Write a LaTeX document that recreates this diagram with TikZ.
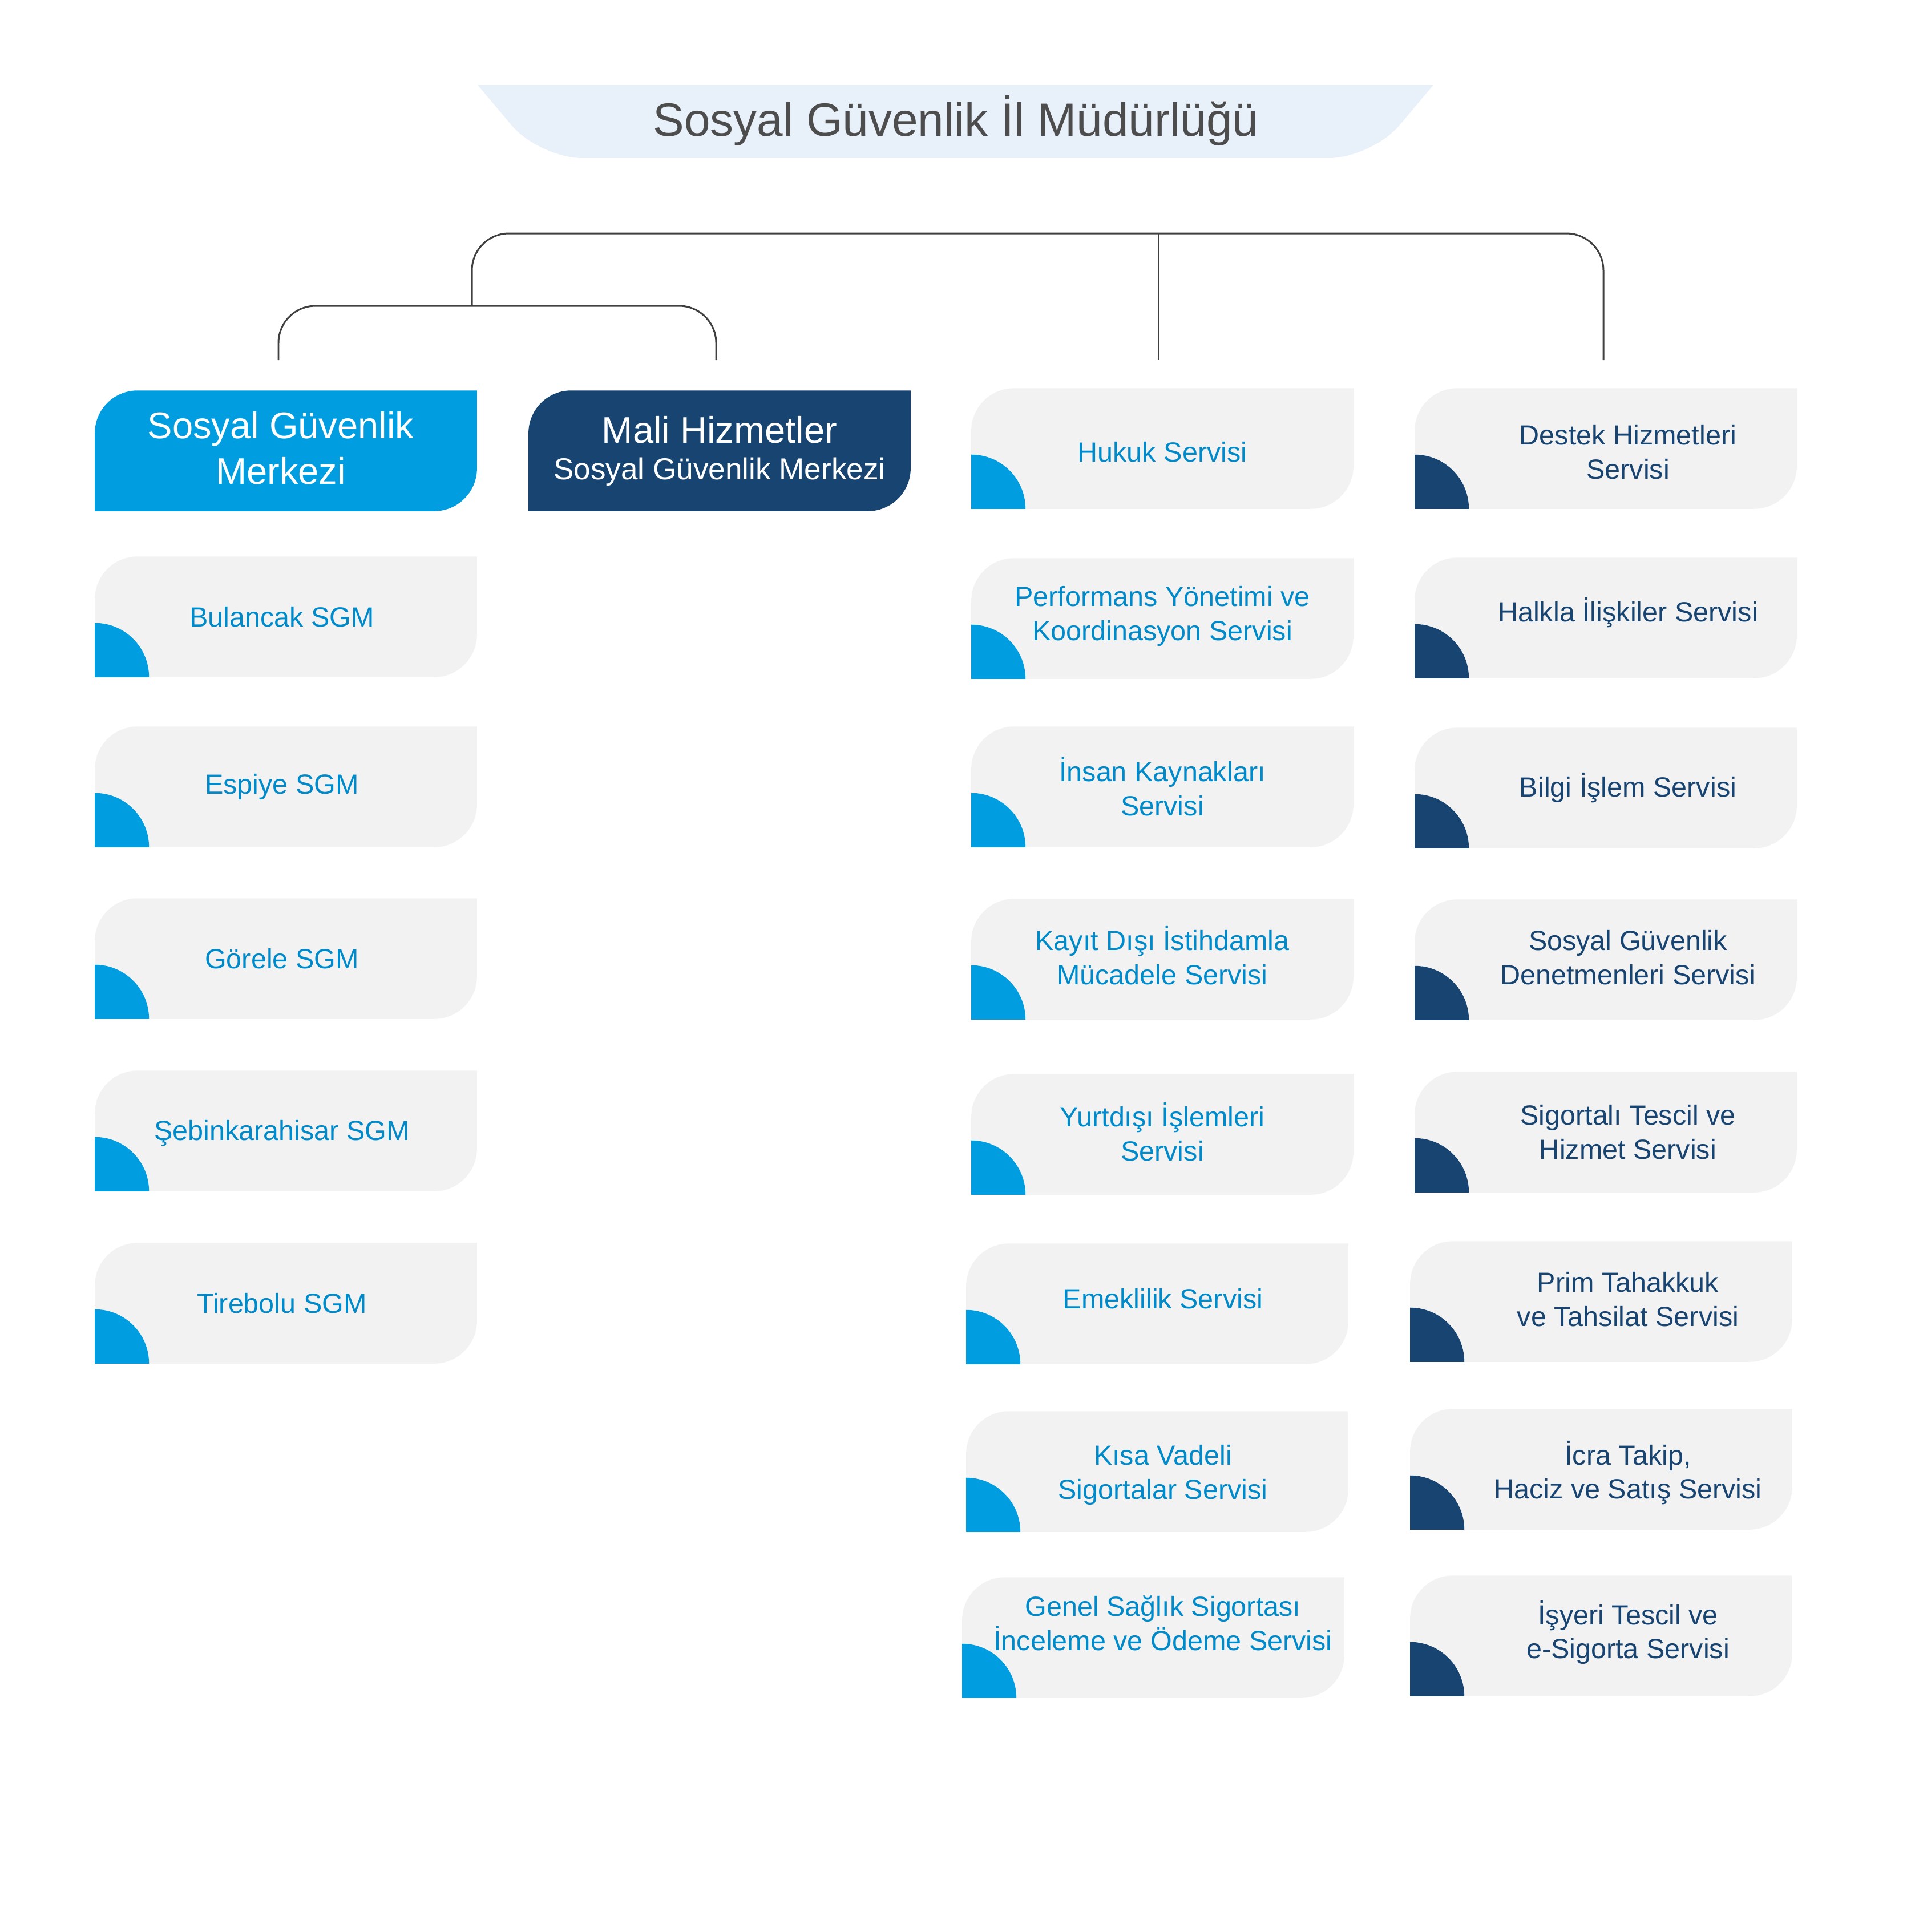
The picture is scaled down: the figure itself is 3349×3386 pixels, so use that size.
\documentclass[tikz,border=0pt]{standalone}
\usepackage{fontspec}
\setmainfont{Liberation Sans}
\usetikzlibrary{positioning,backgrounds}

\definecolor{sgblue}{RGB}{0,158,224}
\definecolor{sgdark}{RGB}{24,68,113}
\definecolor{sgtext}{RGB}{0,138,202}
\definecolor{sggray}{RGB}{242,242,242}
\definecolor{sgtitle}{RGB}{232,240,250}
\definecolor{sgline}{RGB}{64,64,64}
\definecolor{sgtitletext}{RGB}{77,77,77}

% card outline: rounded top left and bottom right
\newcommand{\cardfill}[2]{\fill[#2] (#1.south west) -- ([yshift=-0.75cm]#1.north west) arc[start angle=180, end angle=90, radius=0.75cm] -- (#1.north east) -- ([yshift=0.75cm]#1.south east) arc[start angle=0, end angle=-90, radius=0.75cm] -- cycle;}
\newcommand{\cardmark}[2]{\fill[#2] (#1.south west) -- ++(0.95cm,0) arc[start angle=0, end angle=90, radius=0.95cm] -- cycle;}

\begin{document}
\begin{tikzpicture}[x=0.01cm, y=-0.01cm,
    card/.style={minimum width=6.68cm, minimum height=2.1cm, inner sep=0pt},
    cardtext/.style={align=center, inner sep=0pt, font=\fontsize{13.8}{17}\selectfont},
    atext/.style={cardtext, text=sgtext, xshift=-0.07cm},
    ctext/.style={cardtext, text=sgtext},
    dtext/.style={cardtext, text=sgdark, xshift=0.39cm},
    headtext/.style={align=center, inner sep=0pt, text=white, font=\fontsize{18.5}{22.8}\selectfont},
    link/.style={draw=sgline, line width=0.85pt, rounded corners=0.65cm}]
    \useasboundingbox (0,0) rectangle (3349,3386);

    % Title
    \node[font=\fontsize{23.3}{28}\selectfont, text=sgtitletext] (title) at (1675,211) {Sosyal Güvenlik İl Müdürlüğü};

    % Heads
    \node[card, label={[headtext, xshift=-0.09cm, yshift=0.05cm]center:{Sosyal Güvenlik\\Merkezi}}] (sgm) at (501,790) {};
    \node[card, label={[headtext]center:{Mali Hizmetler\\[-4.6pt]{\fontsize{15.1}{18}\selectfont Sosyal Güvenlik Merkezi}}}] (mali) at (1261,790) {};

    % SGM column
    \node[card, label={[atext]center:Bulancak SGM}] (bul) at (501,1081) {};
    \node[card, label={[atext]center:Espiye SGM}] (esp) at (501,1379) {};
    \node[card, label={[atext]center:Görele SGM}] (gor) at (501,1680) {};
    \node[card, label={[atext, yshift=-0.04cm]center:Şebinkarahisar SGM}] (seb) at (501,1982) {};
    \node[card, label={[atext]center:Tirebolu SGM}] (tir) at (501,2284) {};

    % Services, left
    \node[card, label={[ctext, yshift=-0.06cm]center:Hukuk Servisi}] (hukuk) at (2037,786) {};
    \node[card, label={[ctext, yshift=0.04cm]center:{Performans Yönetimi ve\\Koordinasyon Servisi}}] (perf) at (2037,1084) {};
    \node[card, label={[ctext]center:{İnsan Kaynakları\\Servisi}}] (insan) at (2037,1379) {};
    \node[card, label={[ctext, yshift=0.06cm]center:{Kayıt Dışı İstihdamla\\Mücadele Servisi}}] (kayit) at (2037,1681) {};
    \node[card, label={[ctext, yshift=0.04cm]center:{Yurtdışı İşlemleri\\Servisi}}] (yurt) at (2037,1988) {};
    \node[card, label={[ctext, xshift=0.1cm, yshift=0.09cm]center:Emeklilik Servisi}] (emek) at (2028,2285) {};
    \node[card, label={[ctext, xshift=0.1cm, yshift=-0.06cm]center:{Kısa Vadeli\\Sigortalar Servisi}}] (kisa) at (2028,2579) {};
    \node[card, label={[ctext, xshift=0.17cm, yshift=0.25cm]center:{Genel Sağlık Sigortası\\İnceleme ve Ödeme Servisi}}] (genel) at (2021,2870) {};

    % Services, right
    \node[card, label={[dtext, yshift=-0.06cm]center:{Destek Hizmetleri\\Servisi}}] (destek) at (2814,786) {};
    \node[card, label={[dtext, yshift=0.09cm]center:Halkla İlişkiler Servisi}] (halkla) at (2814,1083) {};
    \node[card, label={[dtext]center:Bilgi İşlem Servisi}] (bilgi) at (2814,1381) {};
    \node[card, label={[dtext, yshift=0.04cm]center:{Sosyal Güvenlik\\Denetmenleri Servisi}}] (sosyal) at (2814,1682) {};
    \node[card, label={[dtext]center:{Sigortalı Tescil ve\\Hizmet Servisi}}] (sigorta) at (2814,1984) {};
    \node[card, label={[dtext, xshift=0.08cm, yshift=0.04cm]center:{Prim Tahakkuk\\ve Tahsilat Servisi}}] (prim) at (2806,2281) {};
    \node[card, label={[dtext, xshift=0.08cm, yshift=-0.06cm]center:{İcra Takip,\\Haciz ve Satış Servisi}}] (icra) at (2806,2575) {};
    \node[card, label={[dtext, xshift=0.08cm, yshift=0.06cm]center:{İşyeri Tescil ve\\e-Sigorta Servisi}}] (isyeri) at (2806,2867) {};

    \begin{scope}[on background layer]
        \begin{scope}
            \clip (0,149) rectangle (3349,400);
            \fill[sgtitle, rounded corners=0.75cm] (753,49) -- (945,277) -- (2404,277) -- (2596,49) -- cycle;
        \end{scope}
        \foreach \n/\c in {sgm/sgblue, mali/sgdark} {\cardfill{\n}{\c}}
        \foreach \n in {bul, esp, gor, seb, tir, hukuk, perf, insan, kayit, yurt, emek, kisa, genel} {\cardfill{\n}{sggray} \cardmark{\n}{sgblue}}
        \foreach \n in {destek, halkla, bilgi, sosyal, sigorta, prim, icra, isyeri} {\cardfill{\n}{sggray} \cardmark{\n}{sgdark}}
    \end{scope}

    % Links
    \coordinate (csgm) at (488,631);
    \coordinate (cmali) at (1255,631);
    \coordinate (chuk) at (2030,631);
    \coordinate (cdes) at (2810,631);
    \coordinate (cjoin) at (827,536);
    \coordinate (ctop) at (2030,409);
    \draw[link] (csgm) |- (cjoin) -| (cmali);
    \draw[link] (cjoin) |- (ctop) -| (cdes);
    \draw[link] (ctop) -- (chuk);
\end{tikzpicture}
\end{document}
